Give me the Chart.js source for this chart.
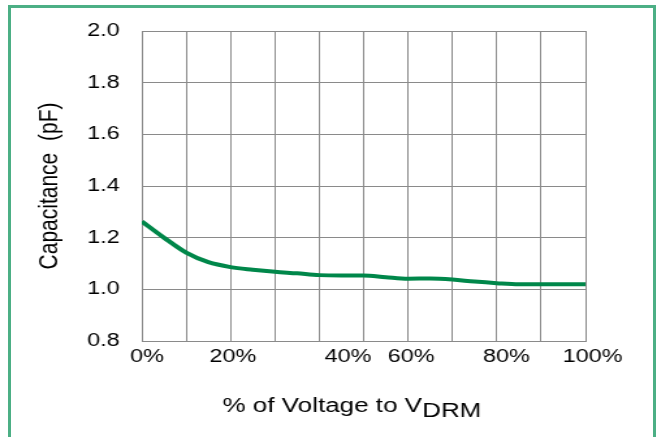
<!DOCTYPE html>
<html>
<head>
<meta charset="utf-8">
<script src="https://cdn.jsdelivr.net/npm/chart.js@4.4.1/dist/chart.umd.min.js"></script>
<style>
  body { margin: 0; background: #fff; width: 657px; height: 437px; overflow: hidden; position: relative; }
  .frame {
    position: absolute; left: 8px; top: 5px; width: 642px; height: 460px;
    border: 3px solid #4caf85; border-bottom: none;
  }
  /* the original figure is stretched sideways, so the canvas is too */
  .wrap { position: absolute; left: 0; top: 0; transform: scaleX(1.301); transform-origin: 0 0; }
</style>
</head>
<body>
<div class="frame"></div>
<div class="wrap"><canvas id="chart" width="505" height="437"></canvas></div>
<script>
// data
const voltagePct = [0, 5, 10, 15, 20, 25, 30, 35, 40, 45, 50, 55, 60, 65, 70, 75, 80, 85, 90, 95, 100];
const capacitance = [1.263, 1.20, 1.142, 1.105, 1.086, 1.076, 1.068, 1.062, 1.055, 1.054, 1.054, 1.047,
                     1.041, 1.042, 1.038, 1.030, 1.024, 1.020, 1.020, 1.020, 1.020];
const xTickLabels = ["0%", "20%", "40%", "60%", "80%", "100%"];
const yTicks = [0.8, 1.0, 1.2, 1.4, 1.6, 1.8, 2.0];

// where the x labels sit along the axis (they are not quite under their gridlines)
const xLabelAt = [1.2, 20.5, 46.5, 60.7, 82.2, 101.6];

const font = '"Liberation Sans", Arial, sans-serif';
const gridColor = "#8a8a8a";
const textColor = "#000";

const xTitle = {
  id: "xTitle",
  afterDraw(chart) {
    const ctx = chart.ctx, area = chart.chartArea;
    const main = "% of Voltage to V", sub = "DRM";
    ctx.save();
    ctx.fillStyle = textColor;
    ctx.font = "20px " + font;
    ctx.textBaseline = "alphabetic";
    ctx.textAlign = "left";
    const w1 = ctx.measureText(main).width;
    const w = w1 + ctx.measureText(sub).width;
    const x = (area.left + area.right) / 2 - w / 2 - 9;
    const y = area.bottom + 71;
    ctx.fillText(main, x, y);
    ctx.fillText(sub, x + w1, y + 5);
    ctx.restore();
  }
};

new Chart(document.getElementById("chart"), {
  type: "line",
  data: {
    datasets: [{
      data: voltagePct.map((v, i) => ({ x: v, y: capacitance[i] })),
      borderColor: "#00874a",
      borderWidth: 4,
      pointRadius: 0,
      cubicInterpolationMode: "monotone",
      fill: false
    }]
  },
  options: {
    responsive: false,
    animation: false,
    layout: { padding: { left: 0, top: 31, right: 55, bottom: 0 } },
    plugins: { legend: { display: false }, tooltip: { enabled: false } },
    scales: {
      x: {
        type: "linear", min: 0, max: 100,
        ticks: { stepSize: 10, display: false },
        grid: { color: gridColor, drawTicks: false },
        border: { color: gridColor },
        afterFit: s => { s.height = 0; }
      },
      xl: {
        type: "linear", position: "bottom", min: 0, max: 100,
        grid: { display: false, drawTicks: false },
        border: { display: false },
        afterBuildTicks: s => { s.ticks = xLabelAt.map(v => ({ value: v })); },
        ticks: {
          autoSkip: false, maxRotation: 0, padding: 5,
          color: textColor, font: { family: font, size: 18 },
          callback: (v, i) => xTickLabels[i]
        },
        afterFit: s => { s.height = 96; }
      },
      y: {
        min: 0.8, max: 2.0,
        afterBuildTicks: s => { s.ticks = yTicks.map(v => ({ value: v })); },
        ticks: {
          padding: 17, color: textColor, font: { family: font, size: 18 },
          callback: v => v.toFixed(1)
        },
        grid: { color: gridColor, drawTicks: false },
        border: { color: gridColor },
        title: {
          display: true, text: "Capacitance  (pF)", color: textColor,
          font: { family: font, size: 21 }, padding: { top: 26, bottom: 0 }
        },
        afterFit: s => { s.width = 109; }
      }
    }
  },
  plugins: [xTitle]
});
</script>
</body>
</html>
